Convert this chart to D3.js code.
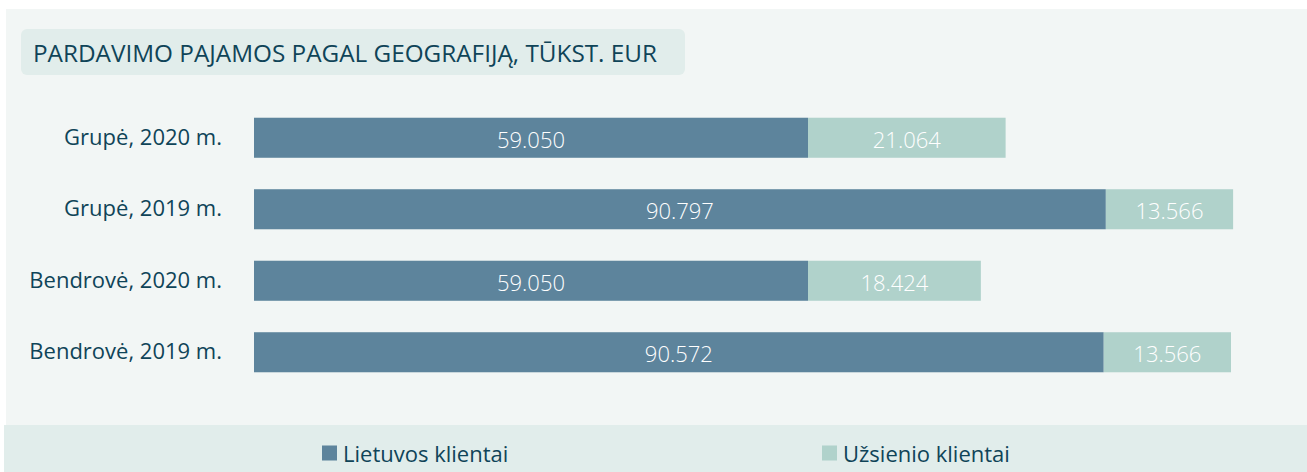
<!DOCTYPE html>
<html>
<head>
<meta charset="utf-8">
<script src="https://cdn.jsdelivr.net/npm/d3@7"></script>
<style>
  body { margin: 0; background: #fff; }
  text { font-family: "Open Sans", "Noto Sans", sans-serif; }
</style>
</head>
<body>
<div class="canvas"></div>
<script>
// data
const categories = ['Grupė, 2020 m.', 'Grupė, 2019 m.', 'Bendrovė, 2020 m.', 'Bendrovė, 2019 m.'];
const lietuvos = [59050, 90797, 59050, 90572];
const uzsienio = [21064, 13566, 18424, 13566];
const seriesNames = ['Lietuvos klientai', 'Užsienio klientai'];
const colors = ['#5d849c', '#b0d2cb'];
const titleText = 'PARDAVIMO PAJAMOS PAGAL GEOGRAFIJĄ, TŪKST. EUR';

const width = 1307, height = 472;

const svg = d3.select('.canvas')
  .append('svg')
  .attr('width', width)
  .attr('height', height);

// backgrounds
svg.append('rect')
  .attr('x', 6).attr('y', 9)
  .attr('width', width - 6).attr('height', height - 9)
  .attr('fill', '#f2f6f5');

svg.append('rect')
  .attr('x', 4).attr('y', 425)
  .attr('width', width - 4).attr('height', height - 425)
  .attr('fill', '#e1edeb');

// title box
svg.append('rect')
  .attr('x', 21).attr('y', 29)
  .attr('width', 664).attr('height', 46)
  .attr('rx', 6)
  .attr('fill', '#e1edeb');

svg.append('text')
  .attr('x', 345).attr('y', 53)
  .attr('text-anchor', 'middle')
  .attr('dominant-baseline', 'central')
  .attr('font-size', 23)
  .attr('textLength', 624)
  .attr('lengthAdjust', 'spacingAndGlyphs')
  .attr('fill', '#0f4458')
  .text(titleText);

// scales
const x = d3.scaleLinear()
  .domain([0, 110000])
  .range([254, 1286]);

const y = d3.scaleBand()
  .domain(categories)
  .range([102, 388])
  .paddingInner(0.44)
  .paddingOuter(0.22);

const stackData = categories.map((c, i) => ({ cat: c, lt: lietuvos[i], uz: uzsienio[i] }));
const series = d3.stack().keys(['lt', 'uz'])(stackData);

const fmt = v => d3.format(',')(v).replace(/,/g, '.');

const groups = svg.selectAll('g.series')
  .data(series)
  .enter()
  .append('g')
  .attr('class', 'series');

groups.each(function(s, si) {
  const g = d3.select(this);
  g.selectAll('rect')
    .data(s)
    .enter()
    .append('rect')
    .attr('x', d => x(d[0]))
    .attr('y', d => y(d.data.cat))
    .attr('width', d => x(d[1]) - x(d[0]))
    .attr('height', y.bandwidth())
    .attr('fill', colors[si]);

  g.selectAll('text')
    .data(s)
    .enter()
    .append('text')
    .attr('x', d => (x(d[0]) + x(d[1])) / 2)
    .attr('y', d => y(d.data.cat) + y.bandwidth() / 2 + 1)
    .attr('text-anchor', 'middle')
    .attr('dominant-baseline', 'central')
    .attr('font-size', 22)
    .attr('font-weight', 300)
    .attr('fill', '#fff')
    .text(d => fmt(d[1] - d[0]));
});

// category axis
const yAxis = d3.axisLeft(y).tickSize(0).tickPadding(0);
const yAxisGroup = svg.append('g')
  .attr('transform', 'translate(222,0)')
  .call(yAxis);
yAxisGroup.select('.domain').remove();
yAxisGroup.selectAll('text')
  .attr('font-size', 22)
  .attr('font-family', '"Open Sans", "Noto Sans", sans-serif')
  .attr('fill', '#0f4458');

// legend
const legendX = [322, 822];
const legend = svg.selectAll('g.legend')
  .data(seriesNames)
  .enter()
  .append('g')
  .attr('class', 'legend')
  .attr('transform', (d, i) => `translate(${legendX[i]}, 453)`);

legend.append('rect')
  .attr('x', 0).attr('y', -7.5)
  .attr('width', 15).attr('height', 15)
  .attr('fill', (d, i) => colors[i]);

legend.append('text')
  .attr('x', 21)
  .attr('y', 0)
  .attr('dominant-baseline', 'central')
  .attr('font-size', 22)
  .attr('fill', '#0f4458')
  .text(d => d);
</script>
</body>
</html>
